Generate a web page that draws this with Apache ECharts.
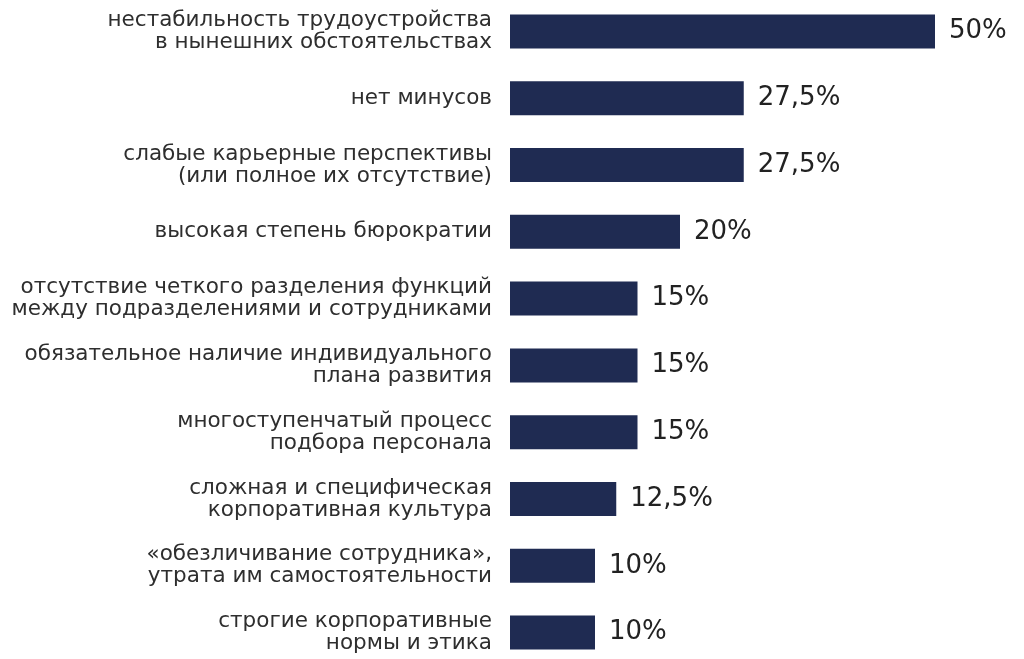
<!DOCTYPE html>
<html><head><meta charset="utf-8">
<script src="https://cdn.jsdelivr.net/npm/echarts@6/dist/echarts.min.js"></script>
<style>html,body{margin:0;padding:0;background:#fff}#c{width:1024px;height:659px}</style>
</head><body><div id="c"></div>
<script>
const categories = [
  "нестабильность трудоустройства\nв нынешних обстоятельствах",
  "нет минусов",
  "слабые карьерные перспективы\n(или полное их отсутствие)",
  "высокая степень бюрократии",
  "отсутствие четкого разделения функций\nмежду подразделениями и сотрудниками",
  "обязательное наличие индивидуального\nплана развития",
  "многоступенчатый процесс\nподбора персонала",
  "сложная и специфическая\nкорпоративная культура",
  "«обезличивание сотрудника»,\nутрата им самостоятельности",
  "строгие корпоративные\nнормы и этика"
];
const values = [50, 27.5, 27.5, 20, 15, 15, 15, 12.5, 10, 10];

const chart = echarts.init(document.getElementById('c'));
chart.setOption({
  animation: false,
  backgroundColor: '#ffffff',
  grid: {left: 510, width: 425, top: -2, height: 668, outerBoundsMode: 'none', containLabel: false},
  xAxis: {type: 'value', min: 0, max: 50, show: false},
  yAxis: {
    type: 'category', data: categories, inverse: true,
    axisLine: {show: false}, axisTick: {show: false},
    axisLabel: {margin: 18, fontFamily: 'DejaVu Sans', fontSize: 21.5, color: '#2e2e2e', lineHeight: 22, align: 'right'}
  },
  series: [{
    type: 'bar', data: values, barWidth: 34,
    itemStyle: {color: '#1f2b52'},
    label: {
      show: true, position: 'right', distance: 14,
      fontFamily: 'DejaVu Sans', fontSize: 26, color: '#222',
      formatter: p => String(p.value).replace('.', ',') + '%'
    }
  }]
});
</script></body></html>
